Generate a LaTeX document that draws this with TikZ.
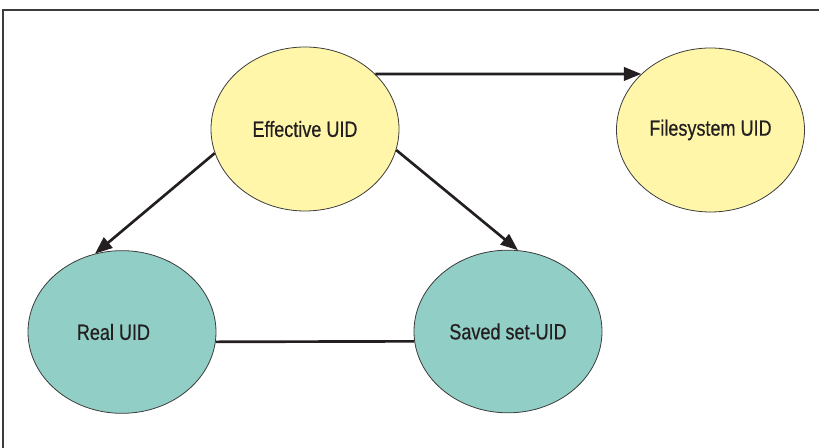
\documentclass[tikz,border=0pt]{standalone}
\usepackage{fontspec}
\setmainfont{Liberation Sans}
\newfontfamily\labelfont[FakeStretch=0.82,FakeBold=0.5]{Liberation Sans}
\usetikzlibrary{shapes.geometric,arrows.meta}

\definecolor{uidyellow}{RGB}{255,246,170}
\definecolor{uidteal}{RGB}{145,206,197}
\definecolor{inkdark}{RGB}{35,31,32}
\definecolor{rimgray}{RGB}{60,60,60}

\tikzset{
  uid/.style={ellipse, draw=rimgray, line width=0.6pt, inner sep=0pt,
    minimum width=141pt, minimum height=123pt, text=inkdark,
    font=\labelfont\fontsize{16.5pt}{18pt}\selectfont},
  yellowuid/.style={uid, fill=uidyellow},
  tealuid/.style={uid, fill=uidteal, minimum height=122pt},
  link/.style={draw=inkdark, line width=2pt},
  flow/.style={link, -{Triangle[length=13pt,width=10pt]}},
  frameline/.style={draw=rimgray, line width=0.8pt}
}

\begin{document}
\begin{tikzpicture}[x=0.75pt, y=-0.75pt]
  \useasboundingbox (0,0) rectangle (819,448);

  % outer frame (top and left edges)
  \coordinate (frameTR) at (819,10);
  \coordinate (frameTL) at (3,10);
  \coordinate (frameBL) at (3,448);
  \draw[frameline] (frameTR) -- (frameTL) -- (frameBL);

  % identifier nodes
  \node[yellowuid] (eff)   at (305,129)   {Effective UID};
  \node[yellowuid] (fs)    at (710.5,130) {Filesystem UID};
  \node[tealuid]   (real)  at (122,332)   {Real UID\kern12.8pt};
  \node[tealuid]   (saved) at (508,331.5) {Saved set-UID};

  % connectors
  \draw[flow] (eff.38.2)  -- (fs.141.5);
  \draw[flow] (eff.195.2) -- (real.109.7);
  \draw[flow] (eff.347.1) -- (saved.83.2);
  \draw[link] (real.-6.4) -- (saved.186.4);
\end{tikzpicture}
\end{document}
